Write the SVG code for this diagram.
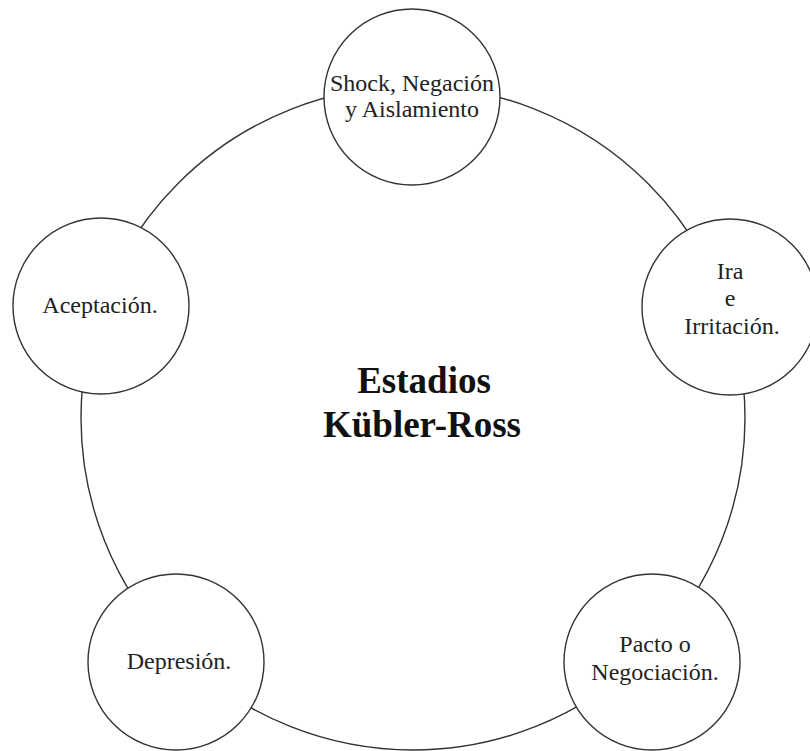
<svg xmlns="http://www.w3.org/2000/svg" width="810" height="751" viewBox="0 0 810 751">
  <style>
    .ring { fill: none; stroke: #333; stroke-width: 1.4; }
    .node circle { fill: #fff; stroke: #333; stroke-width: 1.4; }
    .node text { font-family: "Liberation Serif", "Times New Roman", serif; font-size: 24px; fill: #222; text-anchor: middle; }
    .title { font-family: "Liberation Serif", "Times New Roman", serif; font-size: 37px; font-weight: bold; fill: #111; text-anchor: middle; }
  </style>
  <rect width="810" height="751" fill="#fff"/>

  <!-- cycle ring linking the five stages -->
  <g id="connectors">
    <circle class="ring" cx="413" cy="418" r="332"/>
  </g>

  <g id="title">
    <text class="title" x="424" y="393">Estadios</text>
    <text class="title" x="422" y="437">Kübler-Ross</text>
  </g>

  <g id="shock" class="node">
    <circle cx="412" cy="97" r="88"/>
    <text x="412" y="91">Shock, Negación</text>
    <text x="412" y="117">y Aislamiento</text>
  </g>

  <g id="ira" class="node">
    <circle cx="730" cy="307" r="88"/>
    <text x="730" y="279">Ira</text>
    <text x="730" y="306">e</text>
    <text x="732" y="334">Irritación.</text>
  </g>

  <g id="pacto" class="node">
    <circle cx="652" cy="662" r="88"/>
    <text x="655" y="652">Pacto o</text>
    <text x="655" y="680">Negociación.</text>
  </g>

  <g id="depresion" class="node">
    <circle cx="176" cy="662" r="88"/>
    <text x="179" y="669">Depresión.</text>
  </g>

  <g id="aceptacion" class="node">
    <circle cx="101" cy="306" r="88"/>
    <text x="100" y="313">Aceptación.</text>
  </g>
</svg>
